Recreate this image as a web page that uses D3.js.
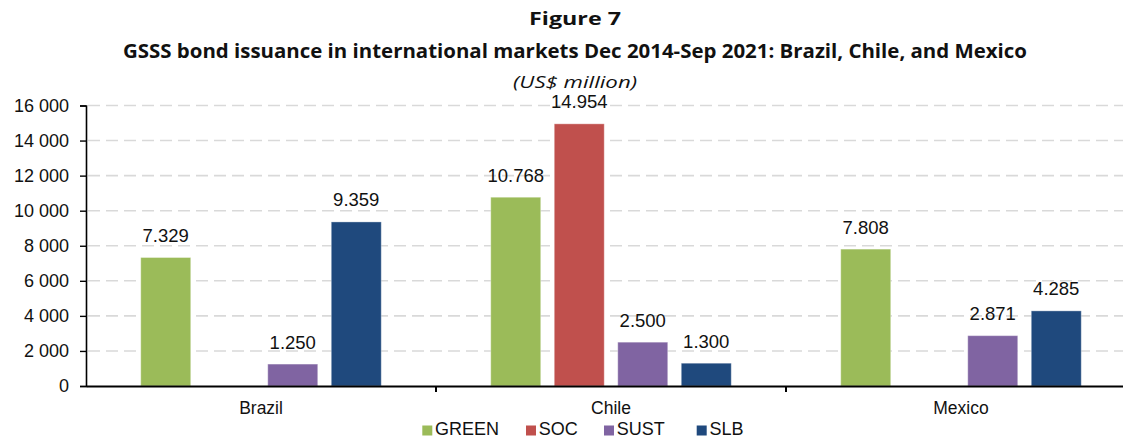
<!DOCTYPE html>
<html><head><meta charset="utf-8">
<script src="https://cdn.jsdelivr.net/npm/d3@7"></script>
<style>
html,body{margin:0;padding:0;background:#fff;overflow:hidden}
svg{display:block}
</style></head>
<body>
<svg id="chart" width="1123" height="439"></svg>
<script>
const categories = ["Brazil", "Chile", "Mexico"];
const seriesNames = ["GREEN", "SOC", "SUST", "SLB"];
const green = [7329, 10768, 7808];
const soc = [null, 14954, null];
const sust = [1250, 2500, 2871];
const slb = [9359, 1300, 4285];
const yTicks = [0, 2000, 4000, 6000, 8000, 10000, 12000, 14000, 16000];
const colors = ["#9BBB59", "#C0504D", "#8064A2", "#1F497D"];
const titleText = "Figure 7";
const subtitleText = "GSSS bond issuance in international markets Dec 2014-Sep 2021: Brazil, Chile, and Mexico";
const unitText = "(US$ million)";

const seriesValues = [green, soc, sust, slb];
const svg = d3.select("#chart");
const FONT = "Liberation Sans, Arial, sans-serif";

const mLeft = 86, mRight = 1136, mTop = 105.5, mBottom = 386;
const x0 = d3.scaleBand().domain(categories).range([mLeft, mRight]).padding(0);
const x1 = d3.scaleBand().domain(seriesNames).range([0, x0.bandwidth()])
  .paddingInner(0.213).paddingOuter(0.862);
const y = d3.scaleLinear().domain([0, 16000]).range([mBottom, mTop]);

const yLoc = d3.formatLocale({decimal: ",", thousands: " ", grouping: [3], currency: ["", ""]});
const vLoc = d3.formatLocale({decimal: ",", thousands: ".", grouping: [3], currency: ["", ""]});
const yFmt = yLoc.format(",");
const vFmt = vLoc.format(",");

// gridlines
svg.append("g").selectAll("line").data(yTicks.filter(d => d > 0)).join("line")
  .attr("x1", mLeft + 2).attr("x2", mRight)
  .attr("y1", d => y(d)).attr("y2", d => y(d))
  .attr("stroke", "#d9d9d9").attr("stroke-width", 1.6)
  .attr("stroke-dasharray", "12,6");

// bars
const data = [];
categories.forEach((c, i) => seriesNames.forEach((s, j) => {
  const v = seriesValues[j][i];
  if (v != null) data.push({c, s, v, color: colors[j]});
}));

svg.append("g").selectAll("rect").data(data).join("rect")
  .attr("x", d => x0(d.c) + x1(d.s))
  .attr("y", d => y(d.v))
  .attr("width", x1.bandwidth())
  .attr("height", d => y(0) - y(d.v))
  .attr("fill", d => d.color)
  .attr("stroke", "rgba(255,255,255,0.35)").attr("stroke-width", 1);

svg.append("g").selectAll("text").data(data).join("text")
  .attr("x", d => x0(d.c) + x1(d.s) + x1.bandwidth() / 2)
  .attr("y", d => y(d.v) - 15.5)
  .attr("text-anchor", "middle")
  .attr("font-family", FONT)
  .attr("font-size", 18.5).attr("fill", "#111")
  .text(d => vFmt(d.v));

// y axis
const yAxis = svg.append("g").attr("transform", `translate(${mLeft},0)`)
  .call(d3.axisLeft(y).tickValues(yTicks).tickFormat(yFmt).tickSize(6).tickPadding(11));
yAxis.select(".domain").attr("stroke", "#000").attr("stroke-width", 1.6);
yAxis.selectAll(".tick line").attr("stroke", "#000").attr("stroke-width", 1.4);
yAxis.selectAll(".tick text").attr("font-family", FONT)
  .attr("font-size", 18).attr("fill", "#111");

// x axis
const xAxis = svg.append("g").attr("transform", `translate(0,${mBottom})`)
  .call(d3.axisBottom(x0).tickSize(0).tickPadding(16));
xAxis.select(".domain").attr("stroke", "#000").attr("stroke-width", 2);
xAxis.selectAll(".tick text").attr("font-family", FONT)
  .attr("font-size", 17.5).attr("fill", "#111");
svg.append("g").selectAll("line").data(categories.slice(1)).join("line")
  .attr("x1", d => x0(d)).attr("x2", d => x0(d))
  .attr("y1", mBottom).attr("y2", mBottom + 6)
  .attr("stroke", "#000").attr("stroke-width", 2);

// titles
const cx = 575;
svg.append("text").attr("x", cx).attr("y", 25).attr("text-anchor", "middle")
  .attr("font-family", "Open Sans, sans-serif").attr("font-weight", "bold")
  .attr("font-size", 18).attr("fill", "#111")
  .attr("textLength", 92).attr("lengthAdjust", "spacingAndGlyphs")
  .text(titleText);
svg.append("text").attr("x", cx).attr("y", 58).attr("text-anchor", "middle")
  .attr("font-family", "Open Sans, sans-serif").attr("font-weight", "bold")
  .attr("font-size", 19).attr("fill", "#111")
  .attr("textLength", 904).attr("lengthAdjust", "spacingAndGlyphs")
  .text(subtitleText);
svg.append("text").attr("x", cx).attr("y", 88).attr("text-anchor", "middle")
  .attr("font-family", "Open Sans, sans-serif").attr("font-style", "italic")
  .attr("font-size", 17).attr("fill", "#111")
  .attr("textLength", 124).attr("lengthAdjust", "spacingAndGlyphs")
  .text(unitText);

// legend
const legendX = [422.3, 526, 604, 696.7];
const lg = svg.append("g").selectAll("g").data(seriesNames).join("g")
  .attr("transform", (d, i) => `translate(${legendX[i]},425.5)`);
lg.append("rect").attr("width", 10).attr("height", 10).attr("fill", (d, i) => colors[i]);
lg.append("text").attr("x", 12.7).attr("y", 9.5)
  .attr("font-family", FONT)
  .attr("font-size", 18).attr("fill", "#111").text(d => d);
</script>
</body></html>
